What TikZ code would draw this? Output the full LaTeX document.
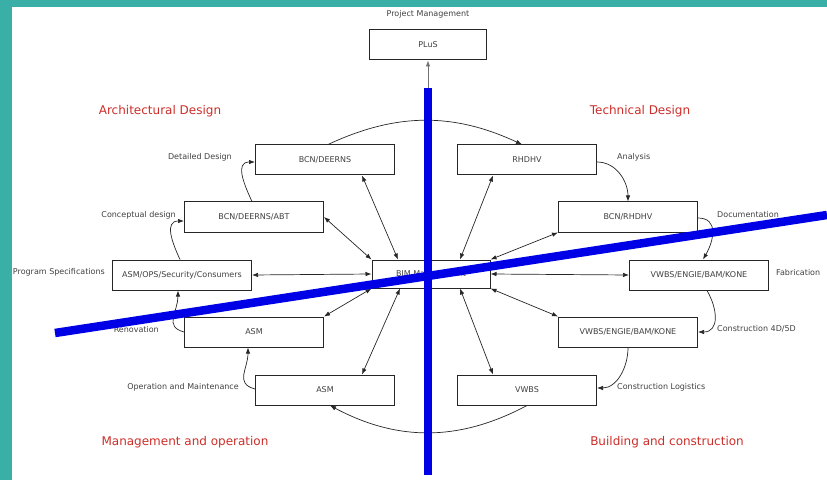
\documentclass[tikz,border=0pt]{standalone}
\usepackage{fontspec}
\setmainfont{DejaVu Sans}
\usepackage{tikz}
\usetikzlibrary{arrows.meta}
\usetikzlibrary{positioning, calc}
\definecolor{frameteal}{RGB}{58,175,168}
\definecolor{phasered}{RGB}{205,45,40}
\definecolor{axisblue}{RGB}{0,0,230}

\begin{document}
\begin{tikzpicture}[x=1pt,y=1pt,>={Latex[length=6pt,width=4.5pt]},
  box/.style={draw=black!85,line width=1pt,fill=white,minimum width=139pt,
    minimum height=30pt,inner sep=0pt,font=\fontsize{8}{9}\selectfont,text=black!75},
  lbl/.style={font=\fontsize{8}{9}\selectfont,text=black!75,inner sep=1pt},
  phase/.style={font=\fontsize{12}{14}\selectfont,text=phasered},
  cycle/.style={->,line width=0.7pt,draw=black!85,looseness=1.3},
  axis/.style={line width=8.5pt,draw=axisblue},
  every edge/.append style={line width=0.7pt,draw=black!85}]
  \useasboundingbox (0,0) rectangle (827,480);
  \fill[frameteal] (0,473) rectangle (827,480);
  \fill[frameteal] (0,0) rectangle (12,480);

  \node[box,minimum width=117pt] (pm) at (428,435) {PLuS};
  \node[lbl] (pml) at (428,466) {Project Management};
  \node[box,minimum width=118pt,minimum height=28pt] (bim) at (431,206) {BIM Management};
  \node[box] (ad2) at (325,320) {BCN/DEERNS};
  \node[box] (td1) at (527,320) {RHDHV};
  \node[box] (ad1) at (254,263) {BCN/DEERNS/ABT};
  \node[box] (td2) at (628,263) {BCN/RHDHV};
  \node[box] (ps)  at (182,205) {ASM/OPS/Security/Consumers};
  \node[box] (fab) at (699,205) {VWBS/ENGIE/BAM/KONE};
  \node[box] (ren) at (254,148) {ASM};
  \node[box] (con) at (628,148) {VWBS/ENGIE/BAM/KONE};
  \node[box] (om)  at (325,90)  {ASM};
  \node[box] (log) at (527,90)  {VWBS};

  \node[lbl,anchor=east] (ad2l) at (233,323) {Detailed Design};
  \node[lbl,anchor=east] (ad1l) at (177,265) {Conceptual design};
  \node[lbl,anchor=east] (psl)  at (106,208) {Program Specifications};
  \node[lbl,anchor=east] (renl) at (160,150) {Renovation};
  \node[lbl,anchor=east] (oml)  at (240,93)  {Operation and Maintenance};
  \node[lbl,anchor=west] (td1l) at (616,323) {Analysis};
  \node[lbl,anchor=west] (td2l) at (716,265) {Documentation};
  \node[lbl,anchor=west] (fabl) at (775,207) {Fabrication};
  \node[lbl,anchor=west] (conl) at (716,151) {Construction 4D/5D};
  \node[lbl,anchor=west] (logl) at (616,93)  {Construction Logistics};

  \node[phase] (h1) at (160,369) {Architectural Design};
  \node[phase] (h2) at (640,369) {Technical Design};
  \node[phase] (h3) at (185,38)  {Management and operation};
  \node[phase] (h4) at (667,38)  {Building and construction};

  % life cycle
  \draw[cycle] ([xshift=-2pt]ps.north) to[out=115,in=180] ([yshift=-4pt]ad1.west);
  \draw[cycle] ([xshift=-2pt]ad1.north) to[out=115,in=180] ([yshift=-2pt]ad2.west);
  \draw[cycle,looseness=1] ([xshift=3pt]ad2.north) to[out=25,in=155] ([xshift=-5pt]td1.north);
  \draw[cycle,looseness=1] ([yshift=-2pt]td1.east) to[out=0,in=90] (td2.north);
  \draw[cycle] ([yshift=-1pt]td2.east) to[out=0,in=60] ([xshift=4pt]fab.north);
  \draw[cycle] ([xshift=8pt]fab.south) to[out=-60,in=0] (con.east);
  \draw[cycle,looseness=1] (con.south) to[out=-90,in=0] ([yshift=2pt]log.east);
  \draw[cycle,looseness=1] (log.south) to[out=-152,in=-28] ([xshift=5pt]om.south);
  \draw[cycle] ([yshift=1pt]om.west) to[out=165,in=-90] ([xshift=-6pt]ren.south);
  \draw[cycle] (ren.west) to[out=165,in=-90] ([xshift=-4pt]ps.south);

  \path ([xshift=37pt]ad2.south) edge[<->] ([xshift=-33pt]bim.north)
        (ad1.east) edge[<->] (bim.north west)
        (ps.east) edge[<->] (bim.west)
        (ren.north east) edge[<->] (bim.south west)
        ([xshift=37pt]om.north) edge[<->] ([xshift=-31pt]bim.south)
        ([xshift=-34pt]td1.south) edge[<->] ([xshift=29pt]bim.north)
        (td2.south west) edge[<->] (bim.north east)
        (fab.west) edge[<->] (bim.east)
        (con.north west) edge[<->] (bim.south east)
        ([xshift=-34pt]log.north) edge[<->] ([xshift=29pt]bim.south)
        (bim.north -| pm) edge[->,draw=black!55] (pm.south);

  \draw[axis] (428,392) -- (428,5);
  \draw[axis] (55,147) -- (827,265);
\end{tikzpicture}
\end{document}
